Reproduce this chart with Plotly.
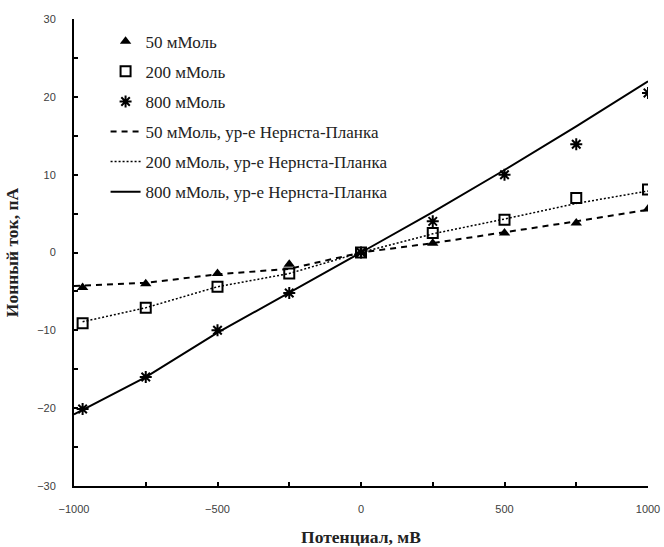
import plotly.graph_objects as go

# Experimental points
x_pts = [-970, -750, -500, -250, 0, 250, 500, 750, 1000]
y50_pts = [-4.5, -4.0, -2.7, -1.5, 0.0, 1.2, 2.5, 3.8, 5.6]
y200_pts = [-9.1, -7.1, -4.4, -2.7, 0.0, 2.5, 4.2, 7.0, 8.1]
y800_pts = [-20.1, -16.0, -10.0, -5.2, 0.0, 4.0, 10.0, 13.9, 20.5]

# Nernst-Planck model curves
x50_fit = [-1000, -750, -500, -250, 0, 250, 500, 750, 1000]
y50_fit = [-4.3, -3.9, -2.8, -2.1, 0.0, 1.2, 2.6, 4.0, 5.5]
x200_fit = [-970, -750, -500, -250, 0, 250, 500, 750, 1000]
y200_fit = [-8.9, -7.1, -4.4, -2.7, 0.0, 2.4, 4.3, 6.3, 7.9]
x800_fit = [-1000, -750, -500, -250, 0, 250, 500, 750, 1000]
y800_fit = [-20.8, -16.0, -10.3, -5.2, 0.0, 5.2, 10.6, 16.2, 22.0]

names = ["50 мМоль", "200 мМоль", "800 мМоль",
         "50 мМоль, ур-е Нернста-Планка",
         "200 мМоль, ур-е Нернста-Планка",
         "800 мМоль, ур-е Нернста-Планка"]

fig = go.Figure()
fig.add_trace(go.Scatter(x=x50_fit, y=y50_fit, mode="lines", name=names[3],
                         line=dict(color="black", width=2, dash="6px,5px"),
                         legendgroup="d", legendrank=4))
fig.add_trace(go.Scatter(x=x200_fit, y=y200_fit, mode="lines", name=names[4],
                         line=dict(color="black", width=1.5, dash="2px,2px"),
                         legendgroup="e", legendrank=5))
fig.add_trace(go.Scatter(x=x800_fit, y=y800_fit, mode="lines", name=names[5],
                         line=dict(color="black", width=2),
                         legendgroup="f", legendrank=6))
fig.add_trace(go.Scatter(x=x_pts, y=y50_pts, mode="markers", name=names[0],
                         marker=dict(symbol="triangle-up", size=10, color="black"),
                         legendgroup="a", legendrank=1))
fig.add_trace(go.Scatter(x=x_pts, y=y200_pts, mode="markers", name=names[1],
                         marker=dict(symbol="square-open", size=10, color="black",
                                     line=dict(width=2, color="black")),
                         legendgroup="b", legendrank=2))
fig.add_trace(go.Scatter(x=x_pts, y=y800_pts, mode="markers", name=names[2],
                         marker=dict(symbol="asterisk-open", size=10, color="black",
                                     line=dict(width=2, color="black")),
                         legendgroup="c", legendrank=3))

tickfont = dict(family="Liberation Sans", size=11, color="#404040")
titlefont = dict(family="Liberation Serif", size=17.5, color="#222222")

fig.update_layout(
    width=664, height=547,
    margin=dict(l=74, r=16, t=19, b=61),
    paper_bgcolor="white", plot_bgcolor="white",
    font=dict(family="Liberation Serif", color="#222222"),
    showlegend=True,
    legend=dict(x=0.055, y=0.99, xanchor="left", yanchor="top",
                traceorder="grouped", tracegroupgap=5,
                font=dict(family="Liberation Serif", size=17, color="#222222"),
                bgcolor="rgba(0,0,0,0)"),
    xaxis=dict(range=[-1000, 1000], tickmode="linear", tick0=-1000, dtick=500,
               ticks="inside", ticklen=4, tickwidth=1.5, tickcolor="black",
               minor=dict(dtick=250, ticks="inside", ticklen=4, tickwidth=1.5, tickcolor="black"),
               showline=True, linecolor="black", linewidth=2, automargin=False,
               showgrid=False, zeroline=False, tickfont=tickfont,
               ticklabelstandoff=12,
               title=dict(text="<b>Потенциал, мВ</b>", font=titlefont, standoff=18)),
    yaxis=dict(range=[-30, 30], tickmode="linear", tick0=-30, dtick=10,
               ticks="inside", ticklen=4, tickwidth=1.5, tickcolor="black",
               minor=dict(dtick=5, ticks="inside", ticklen=4, tickwidth=1.5, tickcolor="black"),
               showline=True, linecolor="black", linewidth=2, automargin=False,
               showgrid=False, zeroline=False, tickfont=tickfont,
               ticklabelstandoff=14,
               title=dict(text="<b>Ионный ток, пА</b>", font=titlefont, standoff=14)),
)

fig.write_html("out.html")
